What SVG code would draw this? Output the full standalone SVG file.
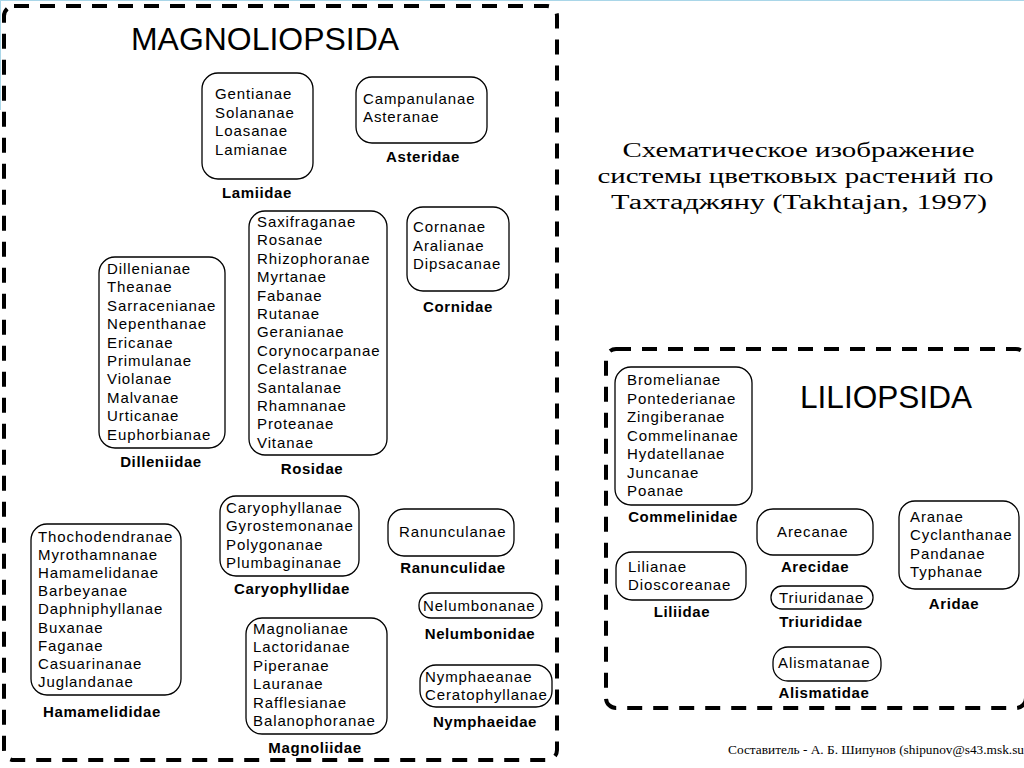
<svg xmlns="http://www.w3.org/2000/svg" width="1024" height="768" viewBox="0 0 1024 768">
<style>
.bg{fill:#fff}
.frame{fill:none;stroke:#000;stroke-width:4;stroke-dasharray:15 11}
.box{fill:none;stroke:#000;stroke-width:1.3}
.it{font-family:"Liberation Sans",Arial,sans-serif;font-size:15px;letter-spacing:0.9px;fill:#000}
.lbl{font-family:"Liberation Sans",Arial,sans-serif;font-size:15px;font-weight:bold;letter-spacing:0.6px;text-anchor:middle;fill:#000}
.title{font-family:"Liberation Sans",Arial,sans-serif;font-size:31px;fill:#000}
.cap{font-family:"Liberation Serif","Times New Roman",serif;font-size:20px;fill:#000}
.credit{font-family:"Liberation Serif","Times New Roman",serif;font-size:12px;fill:#000}
</style>
<rect class="bg" x="0" y="0" width="1024" height="768"/>
<line x1="0" y1="0.5" x2="1024" y2="0.5" stroke="#a9d6e8" stroke-width="1"/>
<line x1="0.5" y1="0" x2="0.5" y2="110" stroke="#a9d6e8" stroke-width="1"/>

<g id="magnoliopsida">
<rect class="frame" x="4" y="6" width="553" height="754" rx="10"/>
<text class="title" x="131" y="50" textLength="268" lengthAdjust="spacingAndGlyphs">MAGNOLIOPSIDA</text>
</g>
<g id="liliopsida">
<rect class="frame" x="606" y="349" width="420" height="359" rx="10"/>
<text class="title" x="800" y="408" textLength="172" lengthAdjust="spacingAndGlyphs">LILIOPSIDA</text>
</g>

<g id="caption">
<text class="cap" text-anchor="middle">
<tspan x="801" y="157" textLength="352" lengthAdjust="spacingAndGlyphs">Схематическое изображение</tspan>
<tspan x="798" y="183" textLength="396" lengthAdjust="spacingAndGlyphs">системы цветковых растений по</tspan>
<tspan x="799" y="209" textLength="376" lengthAdjust="spacingAndGlyphs">Тахтаджяну (Takhtajan, 1997)</tspan>
</text>
</g>

<g id="connectors"></g>

<g id="lamiidae">
<rect class="box" x="202" y="73" width="111" height="106" rx="16"/>
<text class="it"><tspan x="215" y="99">Gentianae</tspan><tspan x="215" y="118">Solananae</tspan><tspan x="215" y="136">Loasanae</tspan><tspan x="215" y="155">Lamianae</tspan></text>
<text class="lbl" x="257" y="198">Lamiidae</text>
</g>

<g id="asteridae">
<rect class="box" x="356" y="77" width="131" height="66" rx="16"/>
<text class="it"><tspan x="363" y="104">Campanulanae</tspan><tspan x="363" y="122">Asteranae</tspan></text>
<text class="lbl" x="423" y="162">Asteridae</text>
</g>

<g id="dilleniidae">
<rect class="box" x="99" y="257" width="126" height="191" rx="16"/>
<text class="it">
<tspan x="107" y="274">Dillenianae</tspan>
<tspan x="107" y="292.4">Theanae</tspan>
<tspan x="107" y="310.8">Sarracenianae</tspan>
<tspan x="107" y="329.2">Nepenthanae</tspan>
<tspan x="107" y="347.6">Ericanae</tspan>
<tspan x="107" y="366">Primulanae</tspan>
<tspan x="107" y="384.4">Violanae</tspan>
<tspan x="107" y="402.8">Malvanae</tspan>
<tspan x="107" y="421.2">Urticanae</tspan>
<tspan x="107" y="439.6">Euphorbianae</tspan>
</text>
<text class="lbl" x="161" y="467">Dilleniidae</text>
</g>

<g id="rosidae">
<rect class="box" x="249" y="211" width="138" height="244" rx="16"/>
<text class="it">
<tspan x="257" y="227">Saxifraganae</tspan>
<tspan x="257" y="245.4">Rosanae</tspan>
<tspan x="257" y="263.8">Rhizophoranae</tspan>
<tspan x="257" y="282.2">Myrtanae</tspan>
<tspan x="257" y="300.6">Fabanae</tspan>
<tspan x="257" y="319">Rutanae</tspan>
<tspan x="257" y="337.4">Geranianae</tspan>
<tspan x="257" y="355.8">Corynocarpanae</tspan>
<tspan x="257" y="374.2">Celastranae</tspan>
<tspan x="257" y="392.6">Santalanae</tspan>
<tspan x="257" y="411">Rhamnanae</tspan>
<tspan x="257" y="429.4">Proteanae</tspan>
<tspan x="257" y="447.8">Vitanae</tspan>
</text>
<text class="lbl" x="312" y="474">Rosidae</text>
</g>

<g id="cornidae">
<rect class="box" x="407" y="207" width="102" height="84" rx="16"/>
<text class="it"><tspan x="413" y="232">Cornanae</tspan><tspan x="413" y="250.5">Aralianae</tspan><tspan x="413" y="269">Dipsacanae</tspan></text>
<text class="lbl" x="458" y="312">Cornidae</text>
</g>

<g id="hamamelididae">
<rect class="box" x="31" y="524" width="150" height="171" rx="16"/>
<text class="it">
<tspan x="38" y="542">Thochodendranae</tspan>
<tspan x="38" y="560.1">Myrothamnanae</tspan>
<tspan x="38" y="578.2">Hamamelidanae</tspan>
<tspan x="38" y="596.3">Barbeyanae</tspan>
<tspan x="38" y="614.4">Daphniphyllanae</tspan>
<tspan x="38" y="632.5">Buxanae</tspan>
<tspan x="38" y="650.6">Faganae</tspan>
<tspan x="38" y="668.7">Casuarinanae</tspan>
<tspan x="38" y="686.8">Juglandanae</tspan>
</text>
<text class="lbl" x="102" y="717">Hamamelididae</text>
</g>

<g id="caryophyllidae">
<rect class="box" x="220" y="496" width="139" height="80" rx="16"/>
<text class="it"><tspan x="226" y="513">Caryophyllanae</tspan><tspan x="226" y="531.4">Gyrostemonanae</tspan><tspan x="226" y="549.8">Polygonanae</tspan><tspan x="226" y="568.2">Plumbaginanae</tspan></text>
<text class="lbl" x="292" y="594">Caryophyllidae</text>
</g>

<g id="ranunculidae">
<rect class="box" x="388" y="509" width="126" height="47" rx="16"/>
<text class="it" x="399" y="537">Ranunculanae</text>
<text class="lbl" x="453" y="573">Ranunculidae</text>
</g>

<g id="nelumbonidae">
<rect class="box" x="419" y="593" width="123" height="25" rx="12"/>
<text class="it" x="423" y="611">Nelumbonanae</text>
<text class="lbl" x="480" y="639">Nelumbonidae</text>
</g>

<g id="magnoliidae">
<rect class="box" x="246" y="618" width="141" height="116" rx="16"/>
<text class="it">
<tspan x="253" y="634">Magnolianae</tspan>
<tspan x="253" y="652.4">Lactoridanae</tspan>
<tspan x="253" y="670.8">Piperanae</tspan>
<tspan x="253" y="689.2">Lauranae</tspan>
<tspan x="253" y="707.6">Rafflesianae</tspan>
<tspan x="253" y="726">Balanophoranae</tspan>
</text>
<text class="lbl" x="315" y="753">Magnoliidae</text>
</g>

<g id="nymphaeidae">
<rect class="box" x="420" y="665" width="132" height="42" rx="16"/>
<text class="it"><tspan x="425" y="682">Nymphaeanae</tspan><tspan x="425" y="700">Ceratophyllanae</tspan></text>
<text class="lbl" x="485" y="727">Nymphaeidae</text>
</g>

<g id="commelinidae">
<rect class="box" x="615" y="367" width="137" height="138" rx="16"/>
<text class="it">
<tspan x="627" y="385">Bromelianae</tspan>
<tspan x="627" y="403.5">Pontederianae</tspan>
<tspan x="627" y="422">Zingiberanae</tspan>
<tspan x="627" y="440.5">Commelinanae</tspan>
<tspan x="627" y="459">Hydatellanae</tspan>
<tspan x="627" y="477.5">Juncanae</tspan>
<tspan x="627" y="496">Poanae</tspan>
</text>
<text class="lbl" x="683" y="522">Commelinidae</text>
</g>

<g id="liliidae">
<rect class="box" x="616" y="552" width="130" height="48" rx="16"/>
<text class="it"><tspan x="628" y="572">Lilianae</tspan><tspan x="628" y="590">Dioscoreanae</tspan></text>
<text class="lbl" x="682" y="617">Liliidae</text>
</g>

<g id="arecidae">
<rect class="box" x="757" y="509" width="116" height="46" rx="16"/>
<text class="it" x="777" y="537">Arecanae</text>
<text class="lbl" x="815" y="572">Arecidae</text>
</g>

<g id="triurididae">
<rect class="box" x="771" y="586" width="102" height="23" rx="11"/>
<text class="it" x="779" y="603">Triuridanae</text>
<text class="lbl" x="821" y="627">Triurididae</text>
</g>

<g id="alismatidae">
<rect class="box" x="773" y="647" width="108" height="34" rx="15"/>
<text class="it" x="778" y="668">Alismatanae</text>
<text class="lbl" x="824" y="698">Alismatidae</text>
</g>

<g id="aridae">
<rect class="box" x="899" y="501" width="120" height="88" rx="16"/>
<text class="it"><tspan x="910" y="522">Aranae</tspan><tspan x="910" y="540.4">Cyclanthanae</tspan><tspan x="910" y="558.8">Pandanae</tspan><tspan x="910" y="577.2">Typhanae</tspan></text>
<text class="lbl" x="954" y="609">Aridae</text>
</g>

<g id="credit">
<text class="credit" x="728" y="754" textLength="296" lengthAdjust="spacingAndGlyphs">Составитель - А. Б. Шипунов (shipunov@s43.msk.su</text>
</g>
</svg>
